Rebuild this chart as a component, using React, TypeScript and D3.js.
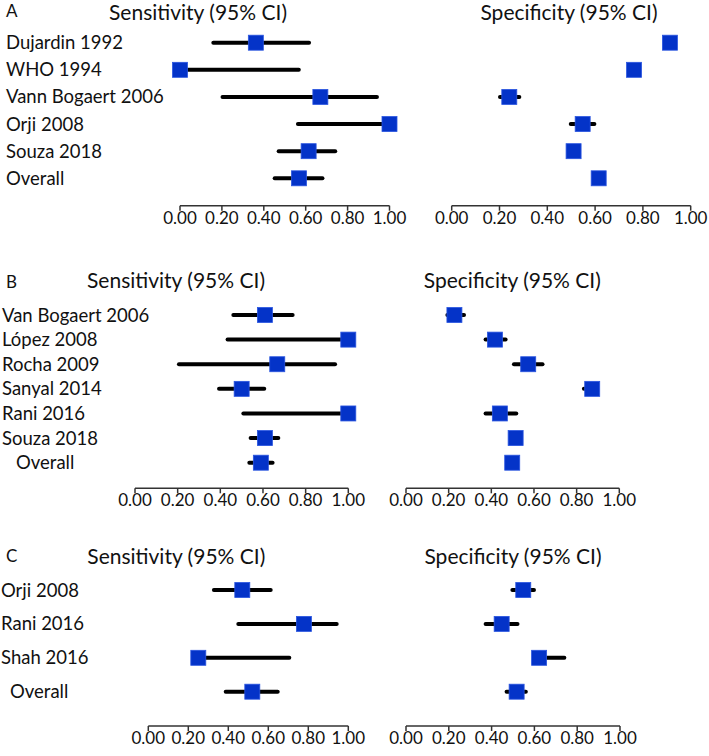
import React from "react";
import * as d3 from "d3";

// ---------- DATA ----------
const ticks = [0, 0.2, 0.4, 0.6, 0.8, 1.0];

const aStudies = ["Dujardin 1992", "WHO 1994", "Vann Bogaert 2006", "Orji 2008", "Souza 2018", "Overall"];
const aSens = [0.362, 0.0, 0.67, 1.0, 0.614, 0.568];
const aSensLo = [0.159, 0.0, 0.203, 0.563, 0.471, 0.452];
const aSensHi = [0.616, 0.567, 0.94, 1.0, 0.741, 0.68];
const aSpec = [0.913, 0.763, 0.241, 0.548, 0.51, 0.615];
const aSpecLo = [0.913, 0.763, 0.202, 0.498, 0.51, 0.615];
const aSpecHi = [0.913, 0.763, 0.283, 0.597, 0.51, 0.615];

const bStudies = ["Van Bogaert 2006", "López 2008", "Rocha 2009", "Sanyal 2014", "Rani 2016", "Souza 2018", "Overall"];
const bSens = [0.609, 1.0, 0.667, 0.5, 1.0, 0.609, 0.59];
const bSensLo = [0.461, 0.434, 0.206, 0.394, 0.508, 0.542, 0.536];
const bSensHi = [0.739, 1.0, 0.938, 0.606, 1.0, 0.672, 0.645];
const bSpec = [0.227, 0.417, 0.573, 0.873, 0.44, 0.514, 0.498];
const bSpecLo = [0.194, 0.373, 0.506, 0.834, 0.373, 0.514, 0.498];
const bSpecHi = [0.272, 0.467, 0.64, 0.88, 0.517, 0.514, 0.498];

const cStudies = ["Orji 2008", "Rani 2016", "Shah 2016", "Overall"];
const cSens = [0.47, 0.778, 0.25, 0.52];
const cSensLo = [0.328, 0.45, 0.25, 0.387];
const cSensHi = [0.612, 0.942, 0.705, 0.647];
const cSpec = [0.548, 0.447, 0.622, 0.517];
const cSpecLo = [0.497, 0.372, 0.6, 0.47];
const cSpecHi = [0.598, 0.521, 0.74, 0.56];

// ---------- LAYOUT ----------
const FONT = "Lato, 'Open Sans', sans-serif";
const BLUE = "#0433c8";
const SQ = 15;

type Panel = {
  letter: string;
  letterX: number;
  letterY: number;
  studies: string[];
  labelX: number;
  overallX: number;
  rowTop: number;
  rowBottom: number;
  axisY: number;
  titleY: number;
  sens: number[]; sensLo: number[]; sensHi: number[];
  spec: number[]; specLo: number[]; specHi: number[];
  left: [number, number];
  right: [number, number];
  leftTitleX: number;
  rightTitleX: number;
};

const panels: Panel[] = [
  {
    letter: "A", letterX: 6, letterY: 17, studies: aStudies, labelX: 6, overallX: 6,
    rowTop: 42.7, rowBottom: 178.3, axisY: 205.7, titleY: 19.5,
    sens: aSens, sensLo: aSensLo, sensHi: aSensHi, spec: aSpec, specLo: aSpecLo, specHi: aSpecHi,
    left: [180, 389.5], right: [451.7, 690.7], leftTitleX: 198, rightTitleX: 569,
  },
  {
    letter: "B", letterX: 6, letterY: 287.5, studies: bStudies, labelX: 2, overallX: 16,
    rowTop: 315, rowBottom: 462.7, axisY: 488.3, titleY: 287.5,
    sens: bSens, sensLo: bSensLo, sensHi: bSensHi, spec: bSpec, specLo: bSpecLo, specHi: bSpecHi,
    left: [135, 348.3], right: [406, 619.3], leftTitleX: 176, rightTitleX: 512.3,
  },
  {
    letter: "C", letterX: 6, letterY: 561.5, studies: cStudies, labelX: 1, overallX: 10,
    rowTop: 590, rowBottom: 691.7, axisY: 726, titleY: 563.5,
    sens: cSens, sensLo: cSensLo, sensHi: cSensHi, spec: cSpec, specLo: cSpecLo, specHi: cSpecHi,
    left: [148.3, 348.3], right: [406, 620], leftTitleX: 176.3, rightTitleX: 513,
  },
];

function Forest({ x, y, studies, pt, lo, hi }: {
  x: d3.ScaleLinear<number, number>; y: d3.ScalePoint<string>; studies: string[];
  pt: number[]; lo: number[]; hi: number[];
}) {
  return (
    <g>
      {studies.map((s, i) => (
        <g key={s}>
          {hi[i] - lo[i] > 0.001 && (
            <line x1={x(lo[i])} x2={x(hi[i])} y1={y(s)} y2={y(s)} stroke="#000" strokeWidth={4} strokeLinecap="round" />
          )}
          <rect x={x(pt[i]) - SQ / 2} y={(y(s) as number) - SQ / 2} width={SQ} height={SQ} fill={BLUE} stroke="#2a55e0" strokeWidth={0.8} />
        </g>
      ))}
    </g>
  );
}

function Axis({ x, yPos }: { x: d3.ScaleLinear<number, number>; yPos: number }) {
  const [r0, r1] = x.range();
  return (
    <g>
      <line x1={r0} x2={r1} y1={yPos} y2={yPos} stroke="#333" strokeWidth={1.5} />
      {ticks.map((t) => (
        <g key={t}>
          <line x1={x(t)} x2={x(t)} y1={yPos} y2={yPos + 5} stroke="#333" strokeWidth={1.5} />
          <text x={x(t)} y={yPos + 18} textAnchor="middle" fontSize={17} fontFamily={FONT} fill="#111">
            {d3.format(".2f")(t)}
          </text>
        </g>
      ))}
    </g>
  );
}

export default function App() {
  return (
    <svg width={709} height={756} style={{ position: "absolute", left: 0, top: 0, background: "#fff" }}>
      <rect width={709} height={756} fill="#fff" />
      {panels.map((p) => {
        const y = d3.scalePoint<string>().domain(p.studies).range([p.rowTop, p.rowBottom]);
        const xl = d3.scaleLinear().domain([0, 1]).range(p.left);
        const xr = d3.scaleLinear().domain([0, 1]).range(p.right);
        return (
          <g key={p.letter}>
            <text x={p.letterX} y={p.letterY} fontSize={17} fontFamily={FONT} fill="#111">{p.letter}</text>
            <text x={p.leftTitleX} y={p.titleY} textAnchor="middle" fontSize={21} fontFamily={FONT} fill="#111">Sensitivity (95% CI)</text>
            <text x={p.rightTitleX} y={p.titleY} textAnchor="middle" fontSize={21} fontFamily={FONT} fill="#111">Specificity (95% CI)</text>
            {p.studies.map((s) => (
              <text key={s} x={s === "Overall" ? p.overallX : p.labelX} y={(y(s) as number) + 6.5} fontSize={18.5} fontFamily={FONT} fill="#111">{s}</text>
            ))}
            <Forest x={xl} y={y} studies={p.studies} pt={p.sens} lo={p.sensLo} hi={p.sensHi} />
            <Forest x={xr} y={y} studies={p.studies} pt={p.spec} lo={p.specLo} hi={p.specHi} />
            <Axis x={xl} yPos={p.axisY} />
            <Axis x={xr} yPos={p.axisY} />
          </g>
        );
      })}
    </svg>
  );
}
